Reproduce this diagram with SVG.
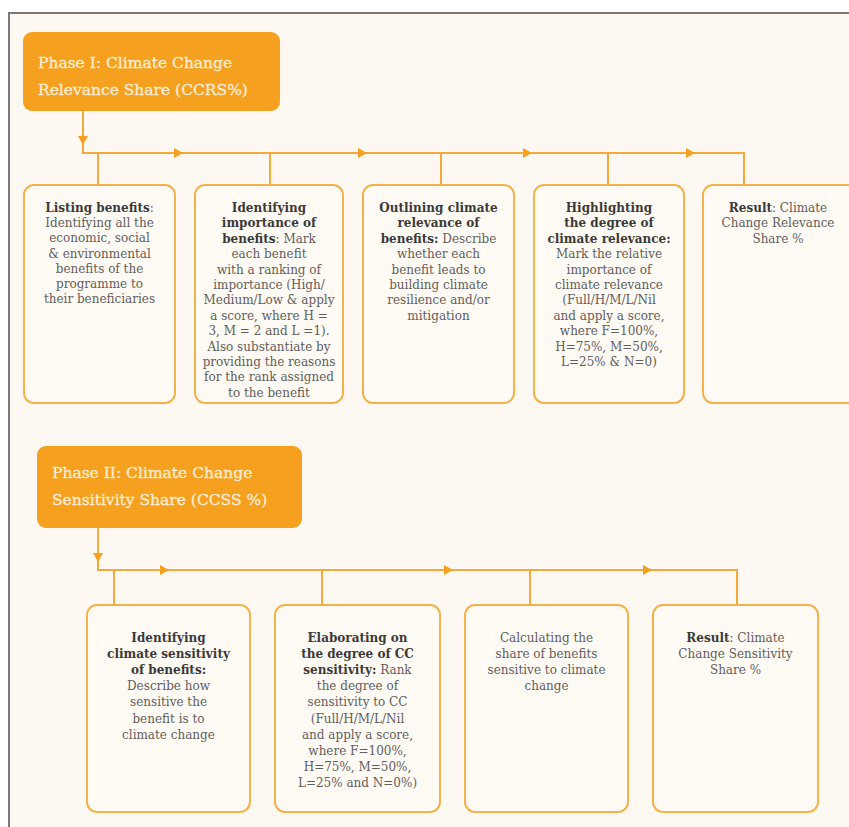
<svg xmlns="http://www.w3.org/2000/svg" xmlns:xlink="http://www.w3.org/1999/xlink" width="849" height="827" viewBox="0 0 849 827">
<style>
.bg{fill:#fdf8f1;stroke:#7a7a7a;stroke-width:2}
.phase{fill:#f5a11f}
.ptxt{font-family:"DejaVu Serif","Liberation Serif",serif;font-size:15.5px;fill:#fdebd2;stroke:#fdebd2;stroke-width:0.35}
.box{fill:#fffaf3;stroke:#f3b24c;stroke-width:2}
.t{font-family:"DejaVu Serif","Liberation Serif",serif;font-size:12px;fill:#5e5e5e;text-anchor:middle}
.b{font-weight:bold;fill:#3a3a3a}
.con{fill:none;stroke:#f4a93a;stroke-width:2}
.arr{fill:#f5a11f}
</style>
<defs>
<path id="ar" d="M-4,-5 L5,0 L-4,5 Z"/>
<path id="ad" d="M-5,-4 L5,-4 L0,5 Z"/>
</defs>
<rect x="0" y="0" width="849" height="827" fill="#ffffff"/>
<rect class="bg" x="9" y="13" width="850" height="830"/>

<g id="connectors">
<path class="con" d="M83,111 V153 H744 V185 M98,153 V185 M270,153 V185 M441,153 V185 M608,153 V185"/>
<use href="#ad" class="arr" x="83" y="140"/>
<use href="#ar" class="arr" x="178" y="153"/>
<use href="#ar" class="arr" x="362" y="153"/>
<use href="#ar" class="arr" x="527" y="153"/>
<use href="#ar" class="arr" x="690" y="153"/>
<path class="con" d="M98,528 V570 H737 V604 M114,570 V604 M322,570 V604 M530,570 V604"/>
<use href="#ad" class="arr" x="98" y="557"/>
<use href="#ar" class="arr" x="164" y="570"/>
<use href="#ar" class="arr" x="448" y="570"/>
<use href="#ar" class="arr" x="647" y="570"/>
</g>

<g id="phase1">
<rect class="phase" x="23" y="32" width="257" height="79" rx="9"/>
<text class="ptxt" x="38" y="68">Phase I: Climate Change</text>
<text class="ptxt" x="38" y="95">Relevance Share (CCRS%)</text>
</g>

<g id="p1-listing">
<rect class="box" x="24" y="185" width="151" height="218" rx="10"/>
<text class="t" y="212"><tspan x="99.5" class="b">Listing benefits</tspan><tspan>:</tspan><tspan x="99.5" dy="15.2">Identifying all the</tspan><tspan x="99.5" dy="15.2">economic, social</tspan><tspan x="99.5" dy="15.2">&amp; environmental</tspan><tspan x="99.5" dy="15.2">benefits of the</tspan><tspan x="99.5" dy="15.2">programme to</tspan><tspan x="99.5" dy="15.2">their beneficiaries</tspan></text>
</g>

<g id="p1-importance">
<rect class="box" x="195" y="185" width="148" height="218" rx="10"/>
<text class="t" y="212"><tspan x="269" class="b">Identifying</tspan><tspan x="269" dy="15.4" class="b">importance of</tspan><tspan x="269" dy="15.4" class="b">benefits</tspan><tspan>: Mark</tspan><tspan x="269" dy="15.4">each benefit</tspan><tspan x="269" dy="15.4">with a ranking of</tspan><tspan x="269" dy="15.4">importance (High/</tspan><tspan x="269" dy="15.4">Medium/Low &amp; apply</tspan><tspan x="269" dy="15.4">a score, where H =</tspan><tspan x="269" dy="15.4">3, M = 2 and L =1).</tspan><tspan x="269" dy="15.4">Also substantiate by</tspan><tspan x="269" dy="15.4">providing the reasons</tspan><tspan x="269" dy="15.4">for the rank assigned</tspan><tspan x="269" dy="15.4">to the benefit</tspan></text>
</g>

<g id="p1-outlining">
<rect class="box" x="363" y="185" width="151" height="218" rx="10"/>
<text class="t" y="212"><tspan x="438.5" class="b">Outlining climate</tspan><tspan x="438.5" dy="15.4" class="b">relevance of</tspan><tspan x="438.5" dy="15.4" class="b">benefits:</tspan><tspan> Describe</tspan><tspan x="438.5" dy="15.4">whether each</tspan><tspan x="438.5" dy="15.4">benefit leads to</tspan><tspan x="438.5" dy="15.4">building climate</tspan><tspan x="438.5" dy="15.4">resilience and/or</tspan><tspan x="438.5" dy="15.4">mitigation</tspan></text>
</g>

<g id="p1-highlighting">
<rect class="box" x="534" y="185" width="150" height="218" rx="10"/>
<text class="t" y="212"><tspan x="609" class="b">Highlighting</tspan><tspan x="609" dy="15.4" class="b">the degree of</tspan><tspan x="609" dy="15.4" class="b">climate relevance:</tspan><tspan x="609" dy="15.4">Mark the relative</tspan><tspan x="609" dy="15.4">importance of</tspan><tspan x="609" dy="15.4">climate relevance</tspan><tspan x="609" dy="15.4">(Full/H/M/L/Nil</tspan><tspan x="609" dy="15.4">and apply a score,</tspan><tspan x="609" dy="15.4">where F=100%,</tspan><tspan x="609" dy="15.4">H=75%, M=50%,</tspan><tspan x="609" dy="15.4">L=25% &amp; N=0)</tspan></text>
</g>

<g id="p1-result">
<rect class="box" x="703" y="185" width="160" height="218" rx="10"/>
<text class="t" y="212"><tspan x="778" class="b">Result</tspan><tspan>: Climate</tspan><tspan x="778" dy="15.4">Change Relevance</tspan><tspan x="778" dy="15.4">Share %</tspan></text>
</g>

<g id="phase2">
<rect class="phase" x="37" y="446" width="265" height="82" rx="9"/>
<text class="ptxt" x="52" y="478">Phase II: Climate Change</text>
<text class="ptxt" x="52" y="505">Sensitivity Share (CCSS %)</text>
</g>

<g id="p2-identifying">
<rect class="box" x="87" y="605" width="163" height="207" rx="10"/>
<text class="t" y="642"><tspan x="168.5" class="b">Identifying</tspan><tspan x="168.5" dy="16.1" class="b">climate sensitivity</tspan><tspan x="168.5" dy="16.1" class="b">of benefits:</tspan><tspan x="168.5" dy="16.1">Describe how</tspan><tspan x="168.5" dy="16.1">sensitive the</tspan><tspan x="168.5" dy="16.1">benefit is to</tspan><tspan x="168.5" dy="16.1">climate change</tspan></text>
</g>

<g id="p2-elaborating">
<rect class="box" x="275" y="605" width="165" height="207" rx="10"/>
<text class="t" y="642"><tspan x="357.5" class="b">Elaborating on</tspan><tspan x="357.5" dy="16.1" class="b">the degree of CC</tspan><tspan x="357.5" dy="16.1"><tspan class="b">sensitivity:</tspan>  Rank</tspan><tspan x="357.5" dy="16.1">the degree of</tspan><tspan x="357.5" dy="16.1">sensitivity to CC</tspan><tspan x="357.5" dy="16.1">(Full/H/M/L/Nil</tspan><tspan x="357.5" dy="16.1">and apply a score,</tspan><tspan x="357.5" dy="16.1">where F=100%,</tspan><tspan x="357.5" dy="16.1">H=75%, M=50%,</tspan><tspan x="357.5" dy="16.1">L=25% and N=0%)</tspan></text>
</g>

<g id="p2-calculating">
<rect class="box" x="465" y="605" width="163" height="207" rx="10"/>
<text class="t" y="642"><tspan x="546.5">Calculating the</tspan><tspan x="546.5" dy="16.1">share of benefits</tspan><tspan x="546.5" dy="16.1">sensitive to climate</tspan><tspan x="546.5" dy="16.1">change</tspan></text>
</g>

<g id="p2-result">
<rect class="box" x="653" y="605" width="165" height="207" rx="10"/>
<text class="t" y="642"><tspan x="735.5" class="b">Result</tspan><tspan>: Climate</tspan><tspan x="735.5" dy="16.1">Change Sensitivity</tspan><tspan x="735.5" dy="16.1">Share %</tspan></text>
</g>
</svg>
